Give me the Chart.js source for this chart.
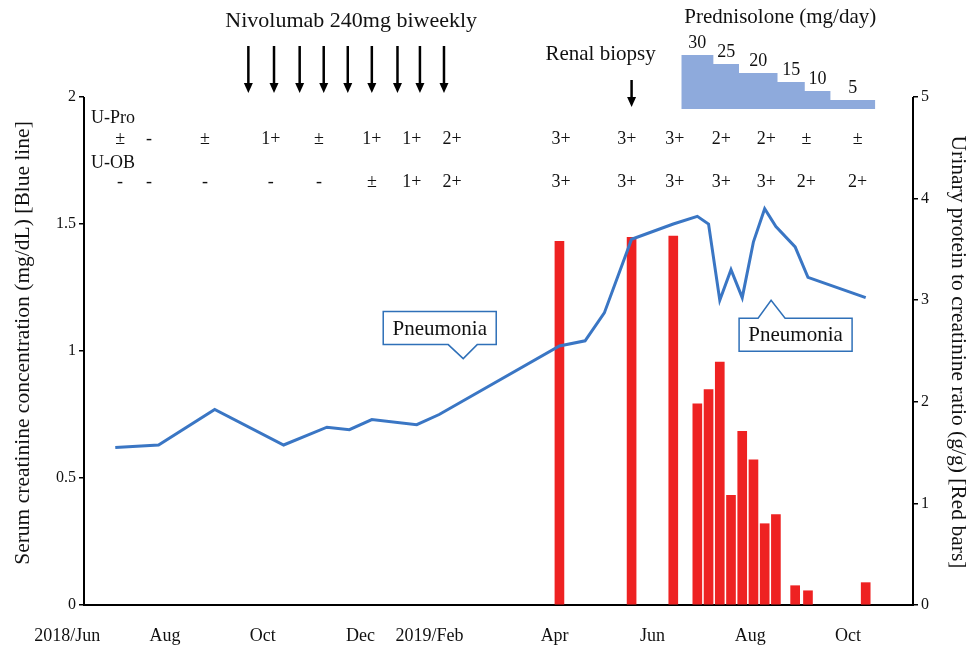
<!DOCTYPE html>
<html lang="en">
<head>
<meta charset="UTF-8">
<title>Creatinine and proteinuria</title>
<script src="https://cdn.jsdelivr.net/npm/chart.js@4.4.0/dist/chart.umd.min.js"></script>
<style>
    body { margin: 0; background: #fff; }
    .chart-container { position: relative; width: 976px; height: 652px; }
</style>
</head>
<body>
<div class="chart-container"><canvas id="chart"></canvas></div>
<script>

// serum creatinine (mg/dL) - blue line
var crDates = ['2018-07-01','2018-07-28','2018-09-01','2018-10-14','2018-11-10','2018-11-24','2018-12-08',
    '2019-01-05','2019-01-19','2019-04-04','2019-04-20','2019-05-02','2019-05-19','2019-06-14','2019-06-29',
    '2019-07-06','2019-07-13','2019-07-20','2019-07-27','2019-08-03','2019-08-10','2019-08-17','2019-08-29',
    '2019-09-06','2019-10-12'];
var crValues = [0.62, 0.63, 0.77, 0.63, 0.70, 0.69, 0.73, 0.71, 0.75, 1.02, 1.04, 1.15, 1.44, 1.50, 1.53,
    1.50, 1.20, 1.32, 1.21, 1.43, 1.56, 1.49, 1.41, 1.29, 1.21];

// urinary protein / creatinine ratio (g/g) - red bars
var upcrDates = ['2019-04-04','2019-05-19','2019-06-14','2019-06-29','2019-07-06','2019-07-13','2019-07-20',
    '2019-07-27','2019-08-03','2019-08-10','2019-08-17','2019-08-29','2019-09-06','2019-10-12'];
var upcrValues = [3.58, 3.62, 3.63, 1.98, 2.12, 2.39, 1.08, 1.71, 1.43, 0.80, 0.89, 0.19, 0.14, 0.22];

// prednisolone steps (mg/day), last date closes the last step
var predDates = ['2019-06-19','2019-07-09','2019-07-25','2019-08-18','2019-09-04','2019-09-20','2019-10-18'];
var predDoses = [30, 25, 20, 15, 10, 5];

// nivolumab doses and biopsy
var nivoDates = ['2018-09-22','2018-10-08','2018-10-24','2018-11-08','2018-11-23','2018-12-08','2018-12-24',
    '2019-01-07','2019-01-22'];
var biopsyDate = '2019-05-19';

// dipstick results
var urineDates = ['2018-07-04','2018-07-22','2018-08-26','2018-10-06','2018-11-05','2018-12-08','2019-01-02',
    '2019-01-27','2019-04-05','2019-05-16','2019-06-15','2019-07-14','2019-08-11','2019-09-05','2019-10-07'];
var uPro = ['±','-','±','1+','±','1+','1+','2+','3+','3+','3+','2+','2+','±','±'];
var uOB  = ['-','-','-','-','-','±','1+','2+','3+','3+','3+','3+','3+','2+','2+'];

// pneumonia episodes: date and creatinine level the callout points at
var pneumonia = [['2019-02-03', 0.97, 'down'], ['2019-08-14', 1.20, 'up']];

// x axis labels (where they sit on the picture)
var tickDates  = ['2018-06-01','2018-08-01','2018-10-01','2018-12-01','2019-01-13','2019-04-01','2019-06-01','2019-08-01','2019-10-01'];
var tickLabels = ['2018/Jun','Aug','Oct','Dec','2019/Feb','Apr','Jun','Aug','Oct'];

function day(s) {
    var p = s.split('-');
    return (Date.UTC(+p[0], p[1] - 1, +p[2]) - Date.UTC(2018, 5, 1)) / 86400000;
}
function pts(dates, vals) {
    return dates.map((d, i) => ({ x: day(d), y: vals[i] }));
}

var serif = "'Liberation Serif', 'Times New Roman', serif";
var ink = '#111';

function arrow(ctx, x, y0, y1) {
    ctx.strokeStyle = '#000';
    ctx.fillStyle = '#000';
    ctx.lineWidth = 2.5;
    ctx.beginPath();
    ctx.moveTo(x, y0);
    ctx.lineTo(x, y1 - 8);
    ctx.stroke();
    ctx.beginPath();
    ctx.moveTo(x - 4.5, y1 - 10);
    ctx.lineTo(x + 4.5, y1 - 10);
    ctx.lineTo(x, y1);
    ctx.closePath();
    ctx.fill();
}

function callout(ctx, tx, ty, dir) {
    var w = 113, h = 33, bx, by;
    ctx.beginPath();
    if (dir == 'down') {
        bx = tx - 80; by = ty - 47;
        ctx.moveTo(bx, by);
        ctx.lineTo(bx + w, by);
        ctx.lineTo(bx + w, by + h);
        ctx.lineTo(tx + 14, by + h);
        ctx.lineTo(tx, ty);
        ctx.lineTo(tx - 15, by + h);
        ctx.lineTo(bx, by + h);
    } else {
        bx = tx - 32; by = ty + 18;
        ctx.moveTo(bx, by);
        ctx.lineTo(tx - 13, by);
        ctx.lineTo(tx, ty);
        ctx.lineTo(tx + 14, by);
        ctx.lineTo(bx + w, by);
        ctx.lineTo(bx + w, by + h);
        ctx.lineTo(bx, by + h);
    }
    ctx.closePath();
    ctx.fillStyle = '#fff';
    ctx.fill();
    ctx.strokeStyle = '#2f70b8';
    ctx.lineWidth = 1.5;
    ctx.stroke();
    ctx.fillStyle = ink;
    ctx.font = '21px ' + serif;
    ctx.textAlign = 'center';
    ctx.textBaseline = 'middle';
    ctx.fillText('Pneumonia', bx + w / 2, by + h / 2 + 1);
}

var overlay = {
    id: 'overlay',
    afterDatasetsDraw(chart) {
        var ctx = chart.ctx;
        var x = chart.scales.x, yL = chart.scales.y, yR = chart.scales.y2, yP = chart.scales.yPred;
        ctx.save();

        // axis lines, only as far as the top tick
        ctx.strokeStyle = '#000';
        ctx.lineWidth = 2;
        ctx.beginPath();
        ctx.moveTo(x.left, yL.getPixelForValue(2));
        ctx.lineTo(x.left, yL.getPixelForValue(0));
        ctx.moveTo(x.right, yR.getPixelForValue(5));
        ctx.lineTo(x.right, yR.getPixelForValue(0));
        ctx.stroke();

        // arrows
        nivoDates.forEach(d => arrow(ctx, x.getPixelForValue(day(d)), 46, 93));
        var bxp = x.getPixelForValue(day(biopsyDate));
        arrow(ctx, bxp, 80, 107);

        ctx.fillStyle = ink;
        ctx.textBaseline = 'middle';
        ctx.textAlign = 'center';
        ctx.font = '22px ' + serif;
        var n0 = x.getPixelForValue(day(nivoDates[0]));
        var n1 = x.getPixelForValue(day(nivoDates[nivoDates.length - 1]));
        ctx.fillText('Nivolumab 240mg biweekly', (n0 + n1) / 2 + 5, 21);
        ctx.font = '21px ' + serif;
        ctx.fillText('Renal biopsy', bxp - 31, 54);

        // prednisolone labels
        var p0 = x.getPixelForValue(day(predDates[0]));
        var p1 = x.getPixelForValue(day(predDates[predDates.length - 1]));
        ctx.fillText('Prednisolone (mg/day)', (p0 + p1) / 2 + 2, 17);
        ctx.font = '18px ' + serif;
        predDoses.forEach((v, i) => {
            var xa = x.getPixelForValue(day(predDates[i]));
            var xb = x.getPixelForValue(day(predDates[i + 1]));
            ctx.fillText(String(v), (xa + xb) / 2, yP.getPixelForValue(v) - 12);
        });

        // dipstick rows
        ctx.font = '18px ' + serif;
        ctx.textAlign = 'left';
        ctx.fillText('U-Pro', 91, 118);
        ctx.fillText('U-OB', 91, 163);
        ctx.textAlign = 'center';
        urineDates.forEach((d, i) => {
            var px = x.getPixelForValue(day(d));
            ctx.fillText(uPro[i], px, 139);
            ctx.fillText(uOB[i], px, 182);
        });

        // pneumonia callouts
        pneumonia.forEach(p => callout(ctx, x.getPixelForValue(day(p[0])), yL.getPixelForValue(p[1]), p[2]));

        // x labels
        ctx.fillStyle = ink;
        ctx.font = '18px ' + serif;
        ctx.textAlign = 'center';
        ctx.textBaseline = 'middle';
        tickDates.forEach((d, i) => ctx.fillText(tickLabels[i], x.getPixelForValue(day(d)), 636));

        // axis titles
        ctx.font = '21.5px ' + serif;
        ctx.save();
        ctx.translate(23, 343);
        ctx.rotate(-Math.PI / 2);
        ctx.fillText('Serum creatinine concentration (mg/dL) [Blue line]', 0, 0);
        ctx.restore();
        ctx.save();
        ctx.translate(958, 352);
        ctx.rotate(Math.PI / 2);
        ctx.fillText('Urinary protein to creatinine ratio (g/g) [Red bars]', 0, 0);
        ctx.restore();

        ctx.restore();
    }
};

var tickFont = { family: serif, size: 16 };
var plain = v => String(v);

var chart = new Chart(document.getElementById('chart'), {
    type: 'line',
    data: {
        datasets: [
            {
                type: 'line',
                label: 'Creatinine',
                data: pts(crDates, crValues),
                yAxisID: 'y',
                borderColor: '#3a76c4',
                borderWidth: 3,
                pointRadius: 0,
                tension: 0,
                order: 0,
            },
            {
                type: 'bar',
                label: 'UPCR',
                data: pts(upcrDates, upcrValues),
                yAxisID: 'y2',
                backgroundColor: '#ee2222',
                barThickness: 9,
                order: 1,
            },
            {
                type: 'line',
                label: 'Prednisolone',
                data: pts(predDates, predDoses.concat([predDoses[predDoses.length - 1]])),
                yAxisID: 'yPred',
                stepped: true,
                borderWidth: 0,
                pointRadius: 0,
                backgroundColor: '#8eaadc',
                fill: { value: 0 },
                clip: false,
                order: 2,
            },
        ]
    },
    options: {
        responsive: true,
        maintainAspectRatio: false,
        animation: false,
        layout: { padding: { top: 40, left: 0, right: 0, bottom: 0 } },
        plugins: {
            legend: { display: false },
            tooltip: { enabled: false },
        },
        scales: {
            x: {
                type: 'linear',
                min: 10.5,
                max: 527.5,
                offset: false,
                ticks: { display: false },
                grid: { display: false },
                border: { display: true, color: '#000', width: 2 },
                afterFit(s) { s.height = 47; },
            },
            y: {
                position: 'left',
                min: 0,
                max: 2 * 565 / 508,
                ticks: { stepSize: 0.5, includeBounds: false, font: tickFont, color: ink, padding: 3, callback: plain },
                grid: { drawOnChartArea: false, drawTicks: true, tickLength: 5, color: '#000', lineWidth: 1.5 },
                border: { display: false },
                afterFit(s) { s.width = 84; },
            },
            y2: {
                position: 'right',
                min: 0,
                max: 5 * 565 / 508,
                ticks: { stepSize: 1, includeBounds: false, font: tickFont, color: ink, padding: 3, callback: plain },
                grid: { drawOnChartArea: false, drawTicks: true, tickLength: 5, color: '#000', lineWidth: 1.5 },
                border: { display: false },
                afterFit(s) { s.width = 63; },
            },
            yPred: {
                display: false,
                min: -(605 - 109) / 1.8,
                max: (109 - 40) / 1.8,
            },
        }
    },
    plugins: [overlay]
});

</script>
</body>
</html>
